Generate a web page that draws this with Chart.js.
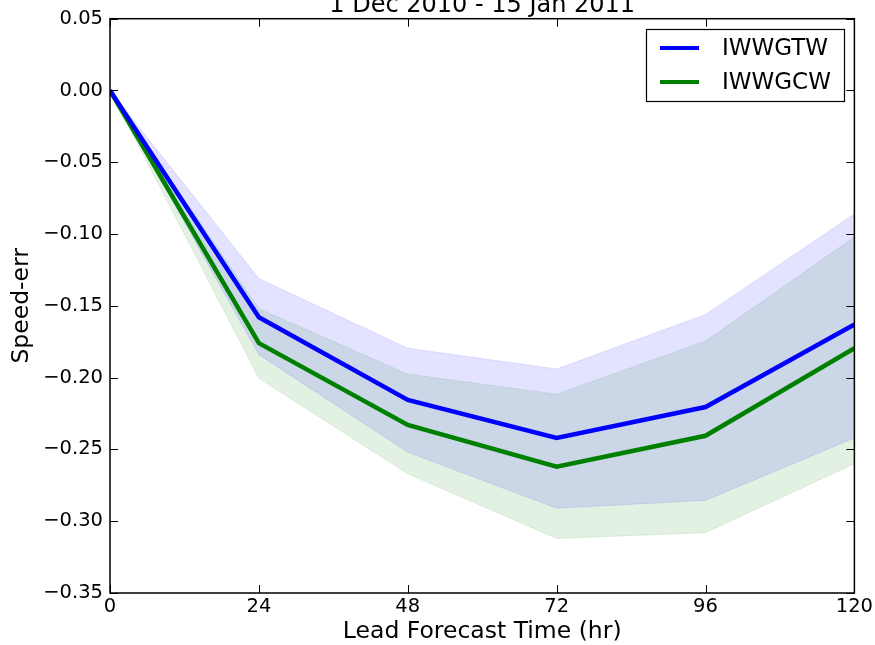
<!DOCTYPE html>
<html>
<head>
<meta charset="utf-8">
<script src="https://cdn.jsdelivr.net/npm/chart.js@4"></script>
<style>
  body { margin: 0; background: #fff; }
  #wrap { width: 875px; height: 645px; }
</style>
</head>
<body>
<div id="wrap"><canvas id="myChart" width="875" height="645"></canvas></div>
<script>
// lead times (hr)
const leadHours = [0, 24, 48, 72, 96, 120];
const xTicks = [0, 24, 48, 72, 96, 120];
const yTicks = [0.05, 0.00, -0.05, -0.10, -0.15, -0.20, -0.25, -0.30, -0.35];

// mean speed error
const gtwMean = [0, -0.158, -0.2155, -0.242, -0.2205, -0.163];
const cwMean  = [0, -0.176, -0.233, -0.262, -0.2405, -0.1795];

// spread bands
const gtwUpper = [0, -0.131, -0.1795, -0.194, -0.156, -0.086];
const gtwLower = [0, -0.184, -0.252, -0.291, -0.2855, -0.242];
const cwUpper  = [0, -0.152, -0.1975, -0.2115, -0.1745, -0.102];
const cwLower  = [0, -0.2005, -0.267, -0.312, -0.308, -0.26];

const seriesNames = ['IWWGTW', 'IWWGCW'];
const chartTitle = '1 Dec 2010 - 15 Jan 2011';

const pts = arr => arr.map((v, i) => ({ x: leadHours[i], y: v }));
const fmt = v => v.toFixed(2).replace('-', '\u2212');
const FONT = '"DejaVu Sans", sans-serif';

// frame, inward ticks on all sides, title and legend box
const decor = {
  id: 'decor',
  afterDraw(chart) {
    const ctx = chart.ctx;
    const a = chart.chartArea;
    const xs = chart.scales.x, ys = chart.scales.y;
    ctx.save();
    ctx.strokeStyle = '#000';
    ctx.lineWidth = 1;
    ctx.beginPath();
    xTicks.forEach(t => {
      const px = Math.round(xs.getPixelForValue(t)) + 0.5;
      ctx.moveTo(px, a.bottom); ctx.lineTo(px, a.bottom - 8);
      ctx.moveTo(px, a.top); ctx.lineTo(px, a.top + 8);
    });
    yTicks.forEach(t => {
      const py = Math.round(ys.getPixelForValue(t)) + 0.5;
      ctx.moveTo(a.left, py); ctx.lineTo(a.left + 8, py);
      ctx.moveTo(a.right, py); ctx.lineTo(a.right - 8, py);
    });
    ctx.stroke();
    ctx.lineWidth = 1.5;
    ctx.strokeRect(a.left, a.top, a.right - a.left, a.bottom - a.top);

    // title sits just above the frame
    ctx.fillStyle = '#000';
    ctx.font = '24px ' + FONT;
    ctx.textAlign = 'center';
    ctx.textBaseline = 'alphabetic';
    ctx.fillText(chartTitle, (a.left + a.right) / 2, a.top - 7);

    // legend
    const lx = 646, ly = 29, lw = 198, lh = 72;
    ctx.fillStyle = '#fff';
    ctx.fillRect(lx, ly, lw, lh);
    ctx.lineWidth = 1.2;
    ctx.strokeRect(lx + 0.5, ly + 0.5, lw, lh);
    const colors = ['#0000ff', '#008000'];
    ctx.font = '23px ' + FONT;
    ctx.textAlign = 'left';
    ctx.textBaseline = 'middle';
    seriesNames.forEach((name, i) => {
      const y = ly + 19 + i * 34;
      ctx.strokeStyle = colors[i];
      ctx.lineWidth = 4;
      ctx.beginPath();
      ctx.moveTo(lx + 14, y); ctx.lineTo(lx + 53, y);
      ctx.stroke();
      ctx.fillStyle = '#000';
      ctx.fillText(name, lx + 76, y + 1);
    });
    ctx.restore();
  }
};

new Chart('myChart', {
  type: 'line',
  data: {
    datasets: [
      { label: seriesNames[0], data: pts(gtwMean), borderColor: '#0000ff', borderWidth: 4.5, pointRadius: 0, fill: false },
      { label: seriesNames[1], data: pts(cwMean), borderColor: '#008000', borderWidth: 4.5, pointRadius: 0, fill: false },
      { label: 'gtw-hi', data: pts(gtwUpper), borderColor: 'rgba(0,0,255,0.1)', borderWidth: 1, pointRadius: 0,
        backgroundColor: 'rgba(0,0,255,0.11)', fill: 3 },
      { label: 'gtw-lo', data: pts(gtwLower), borderColor: 'rgba(0,0,255,0.1)', borderWidth: 1, pointRadius: 0, fill: false },
      { label: 'cw-hi', data: pts(cwUpper), borderColor: 'rgba(0,128,0,0.1)', borderWidth: 1, pointRadius: 0,
        backgroundColor: 'rgba(0,128,0,0.11)', fill: 5 },
      { label: 'cw-lo', data: pts(cwLower), borderColor: 'rgba(0,128,0,0.1)', borderWidth: 1, pointRadius: 0, fill: false }
    ]
  },
  options: {
    responsive: false,
    animation: false,
    layout: { padding: { top: 16, right: 20, left: 0, bottom: 0 } },
    plugins: { legend: { display: false }, tooltip: { enabled: false } },
    elements: { line: { tension: 0 } },
    scales: {
      x: {
        type: 'linear', min: 0, max: 120,
        afterFit: s => { s.height = 52; },
        afterBuildTicks: s => { s.ticks = xTicks.map(v => ({ value: v })); },
        grid: { display: false, drawTicks: false },
        border: { display: false },
        ticks: { color: '#000', padding: 2, maxRotation: 0, font: { family: FONT, size: 19.5 } },
        title: { display: true, text: 'Lead Forecast Time (hr)', color: '#000',
          font: { family: FONT, size: 23.5, lineHeight: 1.1 }, padding: 0 }
      },
      y: {
        min: -0.35, max: 0.05,
        afterFit: s => { s.width = 110; },
        afterBuildTicks: s => { s.ticks = yTicks.map(v => ({ value: v })); },
        grid: { display: false, drawTicks: false },
        border: { display: false },
        ticks: { color: '#000', padding: 7, callback: v => fmt(v), font: { family: FONT, size: 19.5 } },
        title: { display: true, text: 'Speed-err', color: '#000',
          font: { family: FONT, size: 23.5 }, padding: { top: 8, bottom: 0 } }
      }
    }
  },
  plugins: [decor]
});
</script>
</body>
</html>
